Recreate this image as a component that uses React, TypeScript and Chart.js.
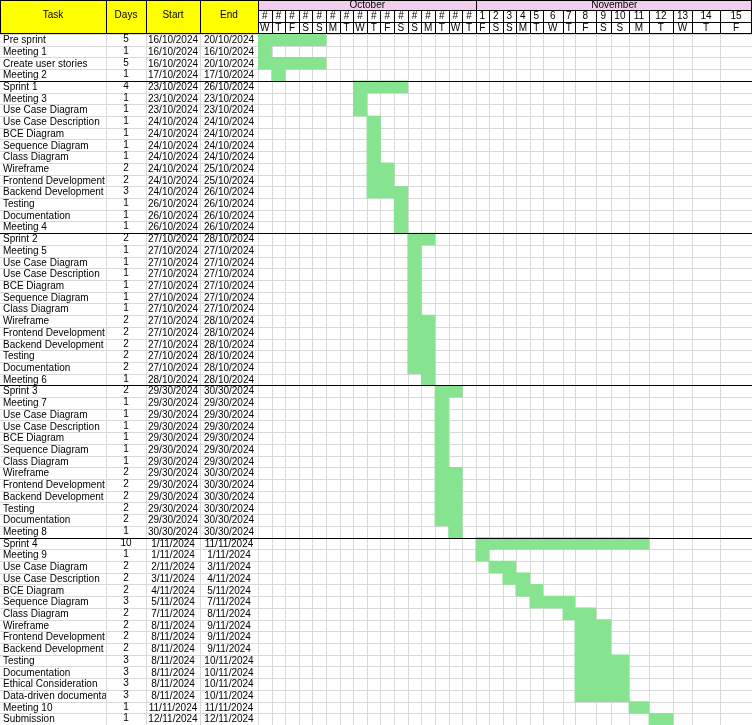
import { useEffect, useRef } from 'react';
import Chart from 'chart.js/auto';

const tasks = [
  'Pre sprint', 'Meeting 1', 'Create user stories', 'Meeting 2',
  'Sprint 1', 'Meeting 3', 'Use Case Diagram', 'Use Case Description', 'BCE Diagram', 'Sequence Diagram', 'Class Diagram', 'Wireframe', 'Frontend Development', 'Backend Development', 'Testing', 'Documentation', 'Meeting 4',
  'Sprint 2', 'Meeting 5', 'Use Case Diagram', 'Use Case Description', 'BCE Diagram', 'Sequence Diagram', 'Class Diagram', 'Wireframe', 'Frontend Development', 'Backend Development', 'Testing', 'Documentation', 'Meeting 6',
  'Sprint 3', 'Meeting 7', 'Use Case Diagram', 'Use Case Description', 'BCE Diagram', 'Sequence Diagram', 'Class Diagram', 'Wireframe', 'Frontend Development', 'Backend Development', 'Testing', 'Documentation', 'Meeting 8',
  'Sprint 4', 'Meeting 9', 'Use Case Diagram', 'Use Case Description', 'BCE Diagram', 'Sequence Diagram', 'Class Diagram', 'Wireframe', 'Frontend Development', 'Backend Development', 'Testing', 'Documentation', 'Ethical Consideration', 'Data-driven documentation', 'Meeting 10', 'Submission',
];

const days = [
  5, 1, 5, 1,
  4, 1, 1, 1, 1, 1, 1, 2, 2, 3, 1, 1, 1,
  2, 1, 1, 1, 1, 1, 1, 2, 2, 2, 2, 2, 1,
  2, 1, 1, 1, 1, 1, 1, 2, 2, 2, 2, 2, 1,
  10, 1, 2, 2, 2, 3, 2, 2, 2, 2, 3, 3, 3, 3, 1, 1,
];

// dates as shown in the sheet (day/month)
const startDates = [
  '16/10', '16/10', '16/10', '17/10',
  '23/10', '23/10', '23/10', '24/10', '24/10', '24/10', '24/10', '24/10', '24/10', '24/10', '26/10', '26/10', '26/10',
  '27/10', '27/10', '27/10', '27/10', '27/10', '27/10', '27/10', '27/10', '27/10', '27/10', '27/10', '27/10', '28/10',
  '29/30', '29/30', '29/30', '29/30', '29/30', '29/30', '29/30', '29/30', '29/30', '29/30', '29/30', '29/30', '30/30',
  '1/11', '1/11', '2/11', '3/11', '4/11', '5/11', '7/11', '8/11', '8/11', '8/11', '8/11', '8/11', '8/11', '8/11', '11/11', '12/11',
];
const endDates = [
  '20/10', '16/10', '20/10', '17/10',
  '26/10', '23/10', '23/10', '24/10', '24/10', '24/10', '24/10', '25/10', '25/10', '26/10', '26/10', '26/10', '26/10',
  '28/10', '27/10', '27/10', '27/10', '27/10', '27/10', '27/10', '28/10', '28/10', '28/10', '28/10', '28/10', '28/10',
  '30/30', '29/30', '29/30', '29/30', '29/30', '29/30', '29/30', '30/30', '30/30', '30/30', '30/30', '30/30', '30/30',
  '11/11', '1/11', '3/11', '4/11', '5/11', '7/11', '8/11', '9/11', '9/11', '9/11', '10/11', '10/11', '10/11', '10/11', '11/11', '12/11',
];

const groupEnds = [3, 16, 29, 42];

// timeline column widths in px (16 Oct .. 15 Nov)
const colWidths = [
  13.6, 13.6, 13.6, 13.6, 13.6, 13.6, 13.6, 13.6, 13.6, 13.6, 13.6, 13.6, 13.6, 13.6, 13.6, 13.6,
  13, 14, 13, 14, 13, 20, 12, 21, 15, 18, 20, 24, 19, 28, 32,
];
const edges = colWidths.reduce<number[]>((acc, w) => [...acc, acc[acc.length - 1] + w], [0]);

const firstDay = new Date(2024, 9, 16);
const dayIndex = (s: string) => {
  const [d, m] = s.split('/').map(Number);
  const month = m > 12 ? 10 : m; // typo "30" in the sheet means October
  return Math.round((new Date(2024, month - 1, d).getTime() - firstDay.getTime()) / 86400000);
};

const GREEN = '#86e38f';
const FONT = '10px "Liberation Sans", Arial, sans-serif';
const HEAD = 34;
const LEFT = 258;
const tableCols = [0, 106, 146, 200, 258];

export default function App() {
  const ref = useRef<HTMLCanvasElement | null>(null);

  useEffect(() => {
    document.body.style.margin = '0';
    if (!ref.current) return;

    const sheet = {
      id: 'sheet',
      beforeDatasetsDraw(chart: any) {
        const { ctx, scales: { x, y }, chartArea } = chart;
        const rowH = (chartArea.bottom - chartArea.top) / tasks.length;
        ctx.save();
        ctx.strokeStyle = '#d9d9d9';
        ctx.lineWidth = 1;
        for (let i = 0; i <= tasks.length; i++) {
          const py = Math.round(chartArea.top + i * rowH) + 0.5;
          ctx.beginPath(); ctx.moveTo(0, py); ctx.lineTo(chart.width, py); ctx.stroke();
        }
        edges.forEach((e) => {
          const px = Math.round(x.getPixelForValue(e)) + 0.5;
          ctx.beginPath(); ctx.moveTo(px, chartArea.top); ctx.lineTo(px, chartArea.bottom); ctx.stroke();
        });
        tableCols.slice(1).forEach((c) => {
          ctx.beginPath(); ctx.moveTo(c + 0.5, chartArea.top); ctx.lineTo(c + 0.5, chartArea.bottom); ctx.stroke();
        });
        ctx.restore();
      },
      afterDraw(chart: any) {
        const { ctx, scales: { x, y }, chartArea } = chart;
        const rowH = (chartArea.bottom - chartArea.top) / tasks.length;
        ctx.save();
        ctx.font = FONT;
        ctx.fillStyle = '#000';
        ctx.textBaseline = 'middle';
        tasks.forEach((t, i) => {
          const cy = y.getPixelForValue(i) + 0.5;
          ctx.save();
          ctx.beginPath(); ctx.rect(0, cy - rowH / 2, tableCols[1], rowH); ctx.clip();
          ctx.textAlign = 'left';
          ctx.fillText(t, 3, cy);
          ctx.restore();
          ctx.textAlign = 'center';
          ctx.fillText(String(days[i]), 126, cy - 1);
          ctx.fillText(startDates[i] + '/2024', 173, cy);
          ctx.fillText(endDates[i] + '/2024', 229, cy);
        });
        // group separators
        ctx.strokeStyle = '#000';
        ctx.lineWidth = 1;
        groupEnds.forEach((g) => {
          const py = Math.round(chartArea.top + (g + 1) * rowH) + 0.5;
          ctx.beginPath(); ctx.moveTo(0, py); ctx.lineTo(chart.width, py); ctx.stroke();
        });
        // header
        ctx.fillStyle = '#ffff00';
        ctx.fillRect(0, 0, LEFT, HEAD);
        ctx.fillStyle = '#f2cdee';
        ctx.fillRect(LEFT, 0, chart.width - LEFT, 10);
        ctx.fillStyle = '#fff';
        ctx.fillRect(LEFT, 10, chart.width - LEFT, HEAD - 10);
        ctx.fillStyle = '#000';
        ctx.textAlign = 'center';
        ['Task', 'Days', 'Start', 'End'].forEach((h, i) => {
          ctx.fillText(h, (tableCols[i] + tableCols[i + 1]) / 2, 15);
        });
        ctx.beginPath();
        tableCols.forEach((c) => { ctx.moveTo(c + 0.5, 0); ctx.lineTo(c + 0.5, HEAD); });
        [0.5, 10.5, 22.5].forEach((py) => { ctx.moveTo(py === 0.5 ? 0 : LEFT, py); ctx.lineTo(chart.width, py); });
        ctx.moveTo(0, HEAD - 0.5); ctx.lineTo(chart.width, HEAD - 0.5);
        const novIdx = 16;
        const novX = Math.round(x.getPixelForValue(edges[novIdx])) + 0.5;
        ctx.moveTo(novX, 0); ctx.lineTo(novX, 10);
        edges.forEach((e) => {
          const px = Math.round(x.getPixelForValue(e)) + 0.5;
          ctx.moveTo(px, 10); ctx.lineTo(px, HEAD);
        });
        ctx.moveTo(chart.width - 0.5, 0); ctx.lineTo(chart.width - 0.5, HEAD);
        ctx.stroke();
        ctx.fillText('October', (LEFT + novX) / 2, 5);
        ctx.fillText('November', (novX + chart.width) / 2, 5);
        const wd = ['S', 'M', 'T', 'W', 'T', 'F', 'S'];
        colWidths.forEach((_, i) => {
          const cx = (x.getPixelForValue(edges[i]) + x.getPixelForValue(edges[i + 1])) / 2;
          const d = new Date(2024, 9, 16 + i);
          ctx.fillText(d.getMonth() === 9 ? '#' : String(d.getDate()), cx, 16.5);
          ctx.fillText(wd[d.getDay()], cx, 28.5);
        });
        ctx.restore();
      },
    };

    const chart = new Chart(ref.current, {
      type: 'bar',
      data: {
        labels: tasks.map((t, i) => `${i}:${t}`),
        datasets: [{
          data: tasks.map((_, i) => [edges[dayIndex(startDates[i])], edges[dayIndex(endDates[i]) + 1]]) as any,
          backgroundColor: GREEN,
          borderWidth: 0,
          barPercentage: 1,
          categoryPercentage: 1,
        }],
      },
      options: {
        indexAxis: 'y',
        animation: false,
        responsive: true,
        maintainAspectRatio: false,
        layout: { padding: { left: LEFT, top: HEAD, right: 0, bottom: 0 } },
        plugins: { legend: { display: false }, tooltip: { enabled: false } },
        scales: {
          x: { type: 'linear', min: 0, max: edges[edges.length - 1], display: false },
          y: { display: false },
        },
      },
      plugins: [sheet],
    });

    return () => chart.destroy();
  }, []);

  return (
    <div style={{ width: 752, height: 725, position: 'relative', background: '#fff' }}>
      <canvas ref={ref}></canvas>
    </div>
  );
}
